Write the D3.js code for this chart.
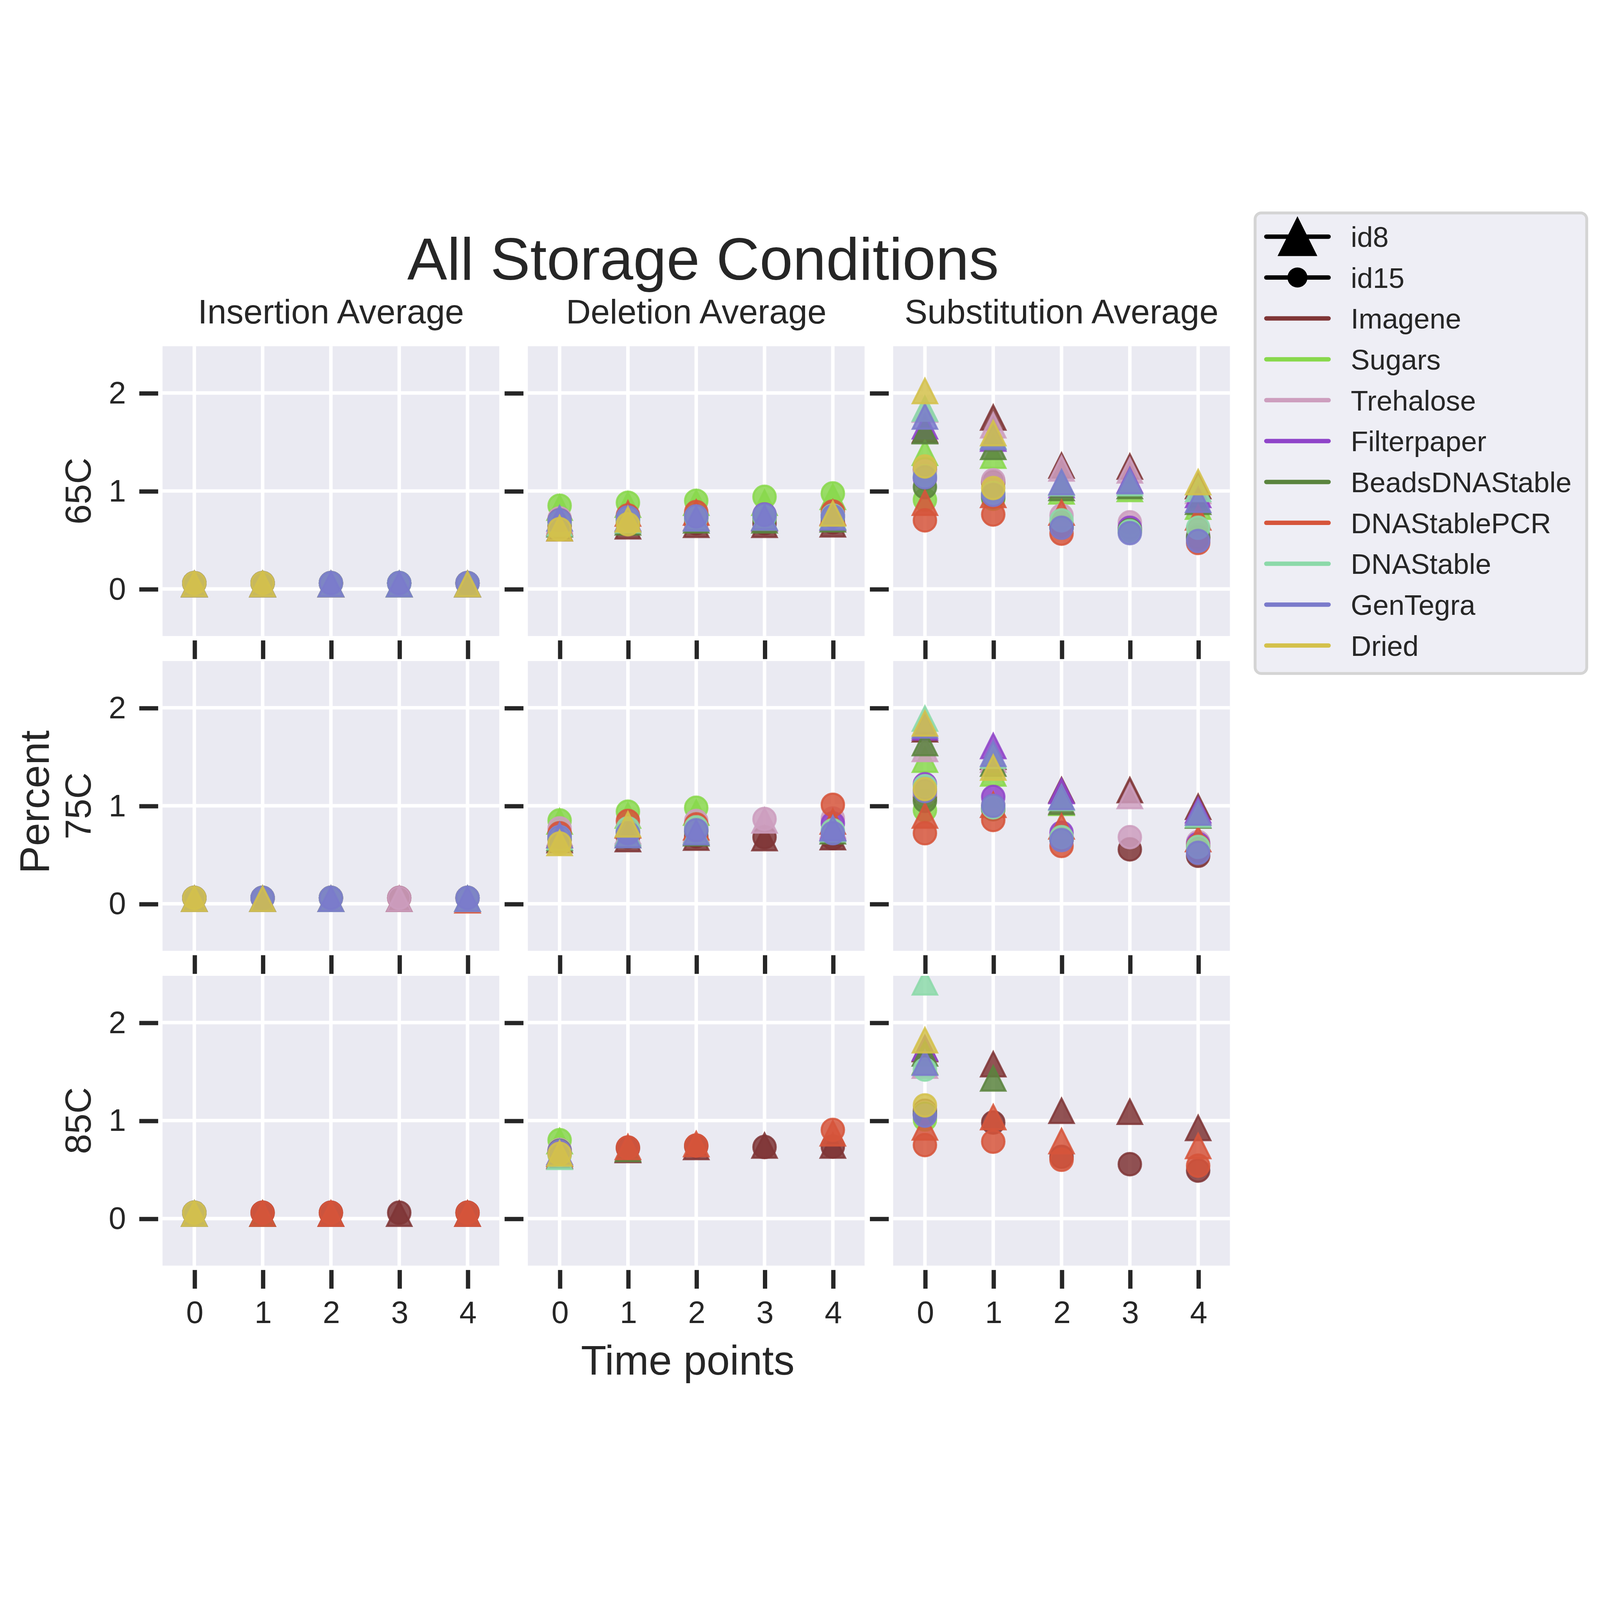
<!DOCTYPE html>
<html>
<head>
<meta charset="utf-8">
<script src="https://cdn.jsdelivr.net/npm/d3@7"></script>
<style>
  html, body { margin: 0; padding: 0; width: 100%; height: 100%; background: #fff; overflow: hidden; }
  svg { display: block; width: 100vw; height: 100vh; }
  text { font-family: "Liberation Sans", Arial, sans-serif; fill: #262626; }
</style>
</head>
<body>
<svg id="chart"></svg>
<script>
// categories
var metrics = ["Insertion Average", "Deletion Average", "Substitution Average"];
var temps = ["65C", "75C", "85C"];
var ids = ["id8", "id15"];
var conditions = ["Imagene", "Sugars", "Trehalose", "Filterpaper", "BeadsDNAStable",
                  "DNAStablePCR", "DNAStable", "GenTegra", "Dried"];
var palette = ["#7f3536", "#88d84c", "#cd9ebe", "#8f44c9", "#5a843e",
               "#d6553b", "#8cd9a9", "#7a7acb", "#d4c14b"];
var timePoints = [0, 1, 2, 3, 4];
var yTicks = [0, 1, 2];
var N = null;

// one row per condition (same order as conditions), one value per time point

// Insertion Average
var ins65_id8 = [
  [0.05, 0.05, 0.05, 0.05, 0.05],
  [0.05, 0.05, 0.05, 0.05, 0.05],
  [0.05, 0.05, 0.05, 0.05, 0.05],
  [0.05, 0.05, 0.05, 0.05, 0.05],
  [0.05, 0.05, 0.05, 0.05, 0.05],
  [0.05, 0.05, 0.05, N,    0.05],
  [0.05, 0.05, 0.05, 0.05, 0.05],
  [0.05, 0.05, 0.05, 0.05, 0.05],
  [0.05, 0.05, N,    N,    0.05]
];
var ins65_id15 = [
  [0.06, 0.06, 0.06, 0.06, 0.06],
  [0.06, 0.06, 0.06, 0.06, 0.06],
  [0.06, 0.06, 0.06, 0.06, 0.06],
  [0.06, 0.06, 0.06, 0.06, 0.06],
  [0.06, 0.06, 0.06, 0.06, 0.06],
  [0.06, 0.06, 0.06, N,    0.06],
  [0.06, 0.06, 0.06, 0.06, 0.06],
  [0.06, 0.06, 0.06, 0.06, 0.06],
  [0.06, 0.06, N,    N,    N]
];
var ins75_id8 = [
  [0.05, 0.05, 0.05, 0.05, 0.05],
  [0.05, 0.05, 0.05, N,    N],
  [0.05, 0.05, 0.05, 0.05, 0.05],
  [0.05, 0.05, 0.05, N,    0.05],
  [0.05, 0.05, 0.05, N,    0.05],
  [0.05, 0.05, 0.05, N,    0.035],
  [0.05, 0.05, 0.05, N,    0.05],
  [0.05, 0.05, 0.05, N,    0.05],
  [0.05, 0.05, N,    N,    N]
];
var ins75_id15 = [
  [0.06, 0.06, 0.06, 0.06, 0.06],
  [0.06, 0.06, 0.06, N,    N],
  [0.06, 0.06, 0.06, 0.06, 0.06],
  [0.06, 0.06, 0.06, N,    0.06],
  [0.06, 0.06, 0.06, N,    N],
  [0.06, 0.06, 0.06, N,    0.06],
  [0.06, 0.06, 0.06, N,    0.06],
  [0.06, 0.06, 0.06, N,    0.06],
  [0.06, N,    N,    N,    N]
];
var ins85_id8 = [
  [0.05, 0.05, 0.05, 0.05, 0.05],
  [0.05, N, N, N, N],
  [0.05, N, N, N, N],
  [0.05, N, N, N, N],
  [0.05, 0.05, N, N, N],
  [0.05, 0.05, 0.05, N, 0.05],
  [0.05, N, N, N, N],
  [0.05, N, N, N, N],
  [0.05, N, N, N, N]
];
var ins85_id15 = [
  [0.06, 0.06, 0.06, 0.06, 0.06],
  [0.06, N, N, N, N],
  [0.06, N, N, N, N],
  [0.06, N, N, N, N],
  [0.06, N, N, N, N],
  [0.06, 0.06, 0.06, N, 0.06],
  [0.06, N, N, N, N],
  [0.06, N, N, N, N],
  [0.06, N, N, N, N]
];

// Deletion Average
var del65_id8 = [
  [0.62, 0.64, 0.655, 0.655, 0.66],
  [0.83, 0.86, 0.88,  0.88,  0.94],
  [0.70, 0.72, 0.73,  0.72,  0.72],
  [0.67, 0.70, 0.72,  0.72,  0.73],
  [0.66, 0.68, 0.70,  0.70,  0.71],
  [0.68, 0.77, 0.78,  N,     0.78],
  [0.67, 0.70, 0.72,  0.73,  0.74],
  [0.72, 0.72, 0.72,  0.73,  0.73],
  [0.62, 0.71, N,     N,     0.77]
];
var del65_id15 = [
  [0.64, 0.66, 0.67,  0.67,  0.68],
  [0.85, 0.88, 0.90,  0.94,  0.975],
  [0.72, 0.73, 0.74,  0.74,  0.75],
  [0.70, 0.72, 0.74,  0.76,  0.76],
  [0.68, 0.70, 0.72,  0.72,  0.73],
  [0.70, 0.75, 0.785, N,     0.79],
  [0.69, 0.72, 0.73,  0.74,  0.75],
  [0.70, 0.73, 0.74,  0.755, 0.74],
  [0.61, 0.66, N,     N,     N]
];
var del75_id8 = [
  [0.65, 0.66, 0.675, 0.67, 0.68],
  [0.84, 0.90, 0.93,  N,    N],
  [0.72, 0.74, 0.76,  0.85, 0.80],
  [0.70, 0.72, 0.74,  N,    0.78],
  [0.67, 0.70, 0.72,  N,    0.74],
  [0.70, 0.80, 0.78,  N,    0.84],
  [0.68, 0.72, 0.74,  N,    0.76],
  [0.70, 0.70, 0.73,  N,    0.77],
  [0.62, 0.81, N,     N,    N]
];
var del75_id15 = [
  [0.66,  0.68,  0.69,  0.68,  0.67],
  [0.85,  0.94,  0.98,  N,     N],
  [0.77,  0.78,  0.845, 0.865, 0.87],
  [0.69,  0.74,  0.76,  N,     0.82],
  [0.67,  0.72,  0.74,  N,     N],
  [0.72,  0.845, 0.81,  N,     1.01],
  [0.68,  0.77,  0.78,  N,     0.75],
  [0.68,  0.72,  0.75,  N,     0.72],
  [0.615, N,     N,     N,     N]
];
var del85_id8 = [
  [0.64,  0.70, 0.73, 0.745, 0.745],
  [0.79,  N,    N,    N,     N],
  [0.68,  N,    N,    N,     N],
  [0.67,  N,    N,    N,     N],
  [0.66,  0.71, N,    N,     N],
  [0.66,  0.73, 0.76, N,     0.87],
  [0.63,  N,    N,    N,     N],
  [0.68,  N,    N,    N,     N],
  [0.665, N,    N,    N,     N]
];
var del85_id15 = [
  [0.66,  0.72,  0.74,  0.73, 0.735],
  [0.80,  N,     N,     N,    N],
  [0.70,  N,     N,     N,    N],
  [0.69,  N,     N,     N,    N],
  [0.69,  N,     N,     N,    N],
  [0.68,  0.725, 0.745, N,    0.905],
  [0.65,  N,     N,     N,    N],
  [0.685, N,     N,     N,    N],
  [0.66,  N,     N,     N,    N]
];

// Substitution Average
var sub65_id8 = [
  [1.62, 1.75,  1.26,  1.25, 1.05],
  [1.39, 1.36,  0.995, 1.02, 0.84],
  [1.83, 1.67,  1.23,  1.21, 1.00],
  [1.66, 1.535, 1.06,  1.11, 0.96],
  [1.61, 1.45,  1.03,  1.05, 0.89],
  [0.88, 0.96,  0.78,  N,    0.73],
  [1.84, 1.56,  1.08,  1.08, 1.02],
  [1.76, 1.55,  1.09,  1.10, 0.91],
  [2.02, 1.59,  N,     N,    1.09]
];
var sub65_id15 = [
  [1.22, 1.09, 0.63,  0.60,  0.52],
  [0.91, 0.92, 0.64,  0.60,  0.53],
  [1.20, 1.11, 0.75,  0.68,  0.55],
  [1.13, 0.97, 0.64,  0.625, 0.51],
  [1.04, 0.94, 0.63,  0.60,  0.53],
  [0.70, 0.76, 0.565, N,     0.47],
  [1.15, 0.98, 0.70,  0.59,  0.625],
  [1.14, 0.96, 0.625, 0.57,  0.49],
  [1.25, 1.03, N,     N,     N]
];
var sub75_id8 = [
  [1.78, 1.50, 1.16, 1.16, 0.99],
  [1.47, 1.33, 1.03, N,    N],
  [1.58, 1.47, 1.05, 1.10, 0.94],
  [1.80, 1.61, 1.15, N,    0.955],
  [1.64, 1.43, 1.04, N,    0.90],
  [0.90, 1.01, 0.79, N,    0.66],
  [1.89, 1.51, 1.08, N,    0.91],
  [1.82, 1.53, 1.09, N,    0.93],
  [1.84, 1.39, N,    N,    N]
];
var sub75_id15 = [
  [1.09,  1.00,  0.66,  0.555, 0.49],
  [0.955, 0.98,  0.66,  N,     N],
  [1.12,  1.00,  0.68,  0.68,  0.63],
  [1.22,  1.09,  0.725, N,     0.61],
  [1.05,  0.965, 0.66,  N,     N],
  [0.72,  0.855, 0.59,  N,     0.59],
  [1.20,  0.985, 0.68,  N,     0.58],
  [1.15,  1.00,  0.65,  N,     0.52],
  [1.17,  N,     N,     N,     N]
];
var sub85_id8 = [
  [1.73,  1.575, 1.10, 1.09, 0.925],
  [1.60,  N,     N,    N,    N],
  [1.56,  N,     N,    N,    N],
  [1.74,  N,     N,    N,    N],
  [1.685, 1.43,  N,    N,    N],
  [0.93,  1.035, 0.79, N,    0.74],
  [2.41,  N,     N,    N,    N],
  [1.59,  N,     N,    N,    N],
  [1.82,  N,     N,    N,    N]
];
var sub85_id15 = [
  [1.10,  0.98,  0.63, 0.555, 0.49],
  [1.01,  N,     N,    N,     N],
  [1.08,  N,     N,    N,     N],
  [1.06,  N,     N,    N,     N],
  [1.07,  N,     N,    N,     N],
  [0.75,  0.785, 0.60, N,     0.54],
  [1.52,  N,     N,    N,     N],
  [1.05,  N,     N,    N,     N],
  [1.155, N,     N,    N,     N]
];

// lookup: metric -> temperature -> [id8, id15]
var table = {
  "Insertion Average":    { "65C": [ins65_id8, ins65_id15], "75C": [ins75_id8, ins75_id15], "85C": [ins85_id8, ins85_id15] },
  "Deletion Average":     { "65C": [del65_id8, del65_id15], "75C": [del75_id8, del75_id15], "85C": [del85_id8, del85_id15] },
  "Substitution Average": { "65C": [sub65_id8, sub65_id15], "75C": [sub75_id8, sub75_id15], "85C": [sub85_id8, sub85_id15] }
};

// layout (drawn in a 1568x1176 box, fitted to the window)
var colX = [159.3, 517.3, 875.3];
var rowY = [143.3, 451.8, 760.3];
var panelW = 330, panelH = 284;
var ink = "#262626";

var svg = d3.select("#chart")
    .attr("viewBox", "0 0 1568 1176")
    .attr("preserveAspectRatio", "xMidYMid meet");

svg.append("rect").attr("width", 1568).attr("height", 1176).attr("fill", "#fff");

svg.append("defs").append("clipPath").attr("id", "panelClip")
  .append("rect").attr("width", panelW).attr("height", panelH);

var x = d3.scaleLinear().domain([-0.465, 4.465]).range([0, panelW]);
var y = d3.scaleLinear().domain([-0.48, 2.477]).range([panelH, 0]);

function tri(h) {
  return "M0," + (-h) + "L" + h + "," + h + "L" + (-h) + "," + h + "Z";
}

function styleAxis(sel, size) {
  sel.select(".domain").remove();
  sel.selectAll(".tick line").attr("stroke", ink).attr("stroke-width", 4.2);
  sel.selectAll(".tick text")
    .attr("fill", ink)
    .style("font-family", '"Liberation Sans", Arial, sans-serif')
    .style("font-size", size + "px");
}

metrics.forEach(function(m, c) {
  temps.forEach(function(t, r) {
    var g = svg.append("g").attr("transform", "translate(" + colX[c] + "," + rowY[r] + ")");

    g.append("rect").attr("width", panelW).attr("height", panelH).attr("fill", "#eaeaf2");

    g.selectAll(".hgrid").data(yTicks).enter().append("line")
      .attr("x1", 0).attr("x2", panelW)
      .attr("y1", function(d) { return y(d); }).attr("y2", function(d) { return y(d); })
      .attr("stroke", "#fff").attr("stroke-width", 3.4);
    g.selectAll(".vgrid").data(timePoints).enter().append("line")
      .attr("y1", 0).attr("y2", panelH)
      .attr("x1", function(d) { return x(d); }).attr("x2", function(d) { return x(d); })
      .attr("stroke", "#fff").attr("stroke-width", 3.4);

    // points, drawn condition by condition like the hue order
    var pts = g.append("g").attr("clip-path", "url(#panelClip)");
    var pair = table[m][t];
    conditions.forEach(function(name, i) {
      ids.forEach(function(id, k) {
        pair[k][i].forEach(function(v, tp) {
          if (v === null) return;
          var mark;
          if (k === 0) {
            mark = pts.append("path").attr("d", tri(12));
          } else {
            mark = pts.append("circle").attr("r", 11);
          }
          mark.attr("transform", "translate(" + x(timePoints[tp]) + "," + y(v) + ")")
            .attr("fill", palette[i]).attr("fill-opacity", 0.85)
            .attr("stroke", palette[i]).attr("stroke-opacity", 0.85)
            .attr("stroke-width", 2);
        });
      });
    });

    var yAxis = d3.axisLeft(y).tickValues(yTicks).tickSize(18.5).tickPadding(13)
      .tickFormat(c === 0 ? d3.format("d") : function() { return ""; });
    g.append("g").attr("transform", "translate(-4.3,0)").call(yAxis).call(styleAxis, 30.5);

    var xAxis = d3.axisBottom(x).tickValues(timePoints).tickSize(18.3).tickPadding(12)
      .tickFormat(r === 2 ? d3.format("d") : function() { return ""; });
    g.append("g").attr("transform", "translate(0," + (panelH + 4.3) + ")").call(xAxis).call(styleAxis, 30.5);

    if (r === 0) {
      svg.append("text")
        .attr("x", colX[c] + panelW / 2).attr("y", 121)
        .attr("text-anchor", "middle").style("font-size", "33.6px")
        .text(m);
    }
    if (c === 0) {
      svg.append("text")
        .attr("transform", "translate(88.7," + (rowY[r] + panelH / 2) + ") rotate(-90)")
        .attr("text-anchor", "middle").style("font-size", "35.7px")
        .text(t);
    }
  });
});

// titles
svg.append("text").attr("x", 689).attr("y", 78)
  .attr("text-anchor", "middle").style("font-size", "58.6px")
  .text("All Storage Conditions");
svg.append("text").attr("x", 674).attr("y", 1151)
  .attr("text-anchor", "middle").style("font-size", "40.8px")
  .text("Time points");
svg.append("text")
  .attr("transform", "translate(48,590) rotate(-90)")
  .attr("text-anchor", "middle").style("font-size", "40.8px")
  .text("Percent");

// legend
var legend = svg.append("g");
legend.append("rect")
  .attr("x", 1230).attr("y", 12.7).attr("width", 325).attr("height", 451.3)
  .attr("rx", 6).attr("fill", "#eeeef5").attr("stroke", "#d4d4d4").attr("stroke-width", 2.8);

var legendItems = ids.map(function(d) { return { label: d, color: "#000", kind: d }; })
  .concat(conditions.map(function(d, i) { return { label: d, color: palette[i], kind: "line" }; }));

legendItems.forEach(function(item, j) {
  var cy = 35.9 + j * 40.07;
  legend.append("line")
    .attr("x1", 1241).attr("x2", 1302).attr("y1", cy).attr("y2", cy)
    .attr("stroke", item.color).attr("stroke-width", 4.3).attr("stroke-linecap", "round");
  if (item.kind === "id8") {
    legend.append("path").attr("d", tri(19.5))
      .attr("transform", "translate(1271.5," + (cy - 0.5) + ")").attr("fill", "#000");
  } else if (item.kind === "id15") {
    legend.append("circle").attr("cx", 1271.5).attr("cy", cy).attr("r", 9.8).attr("fill", "#000");
  }
  legend.append("text")
    .attr("x", 1323.8).attr("y", cy + 10)
    .style("font-size", "27.8px")
    .text(item.label);
});
</script>
</body>
</html>
